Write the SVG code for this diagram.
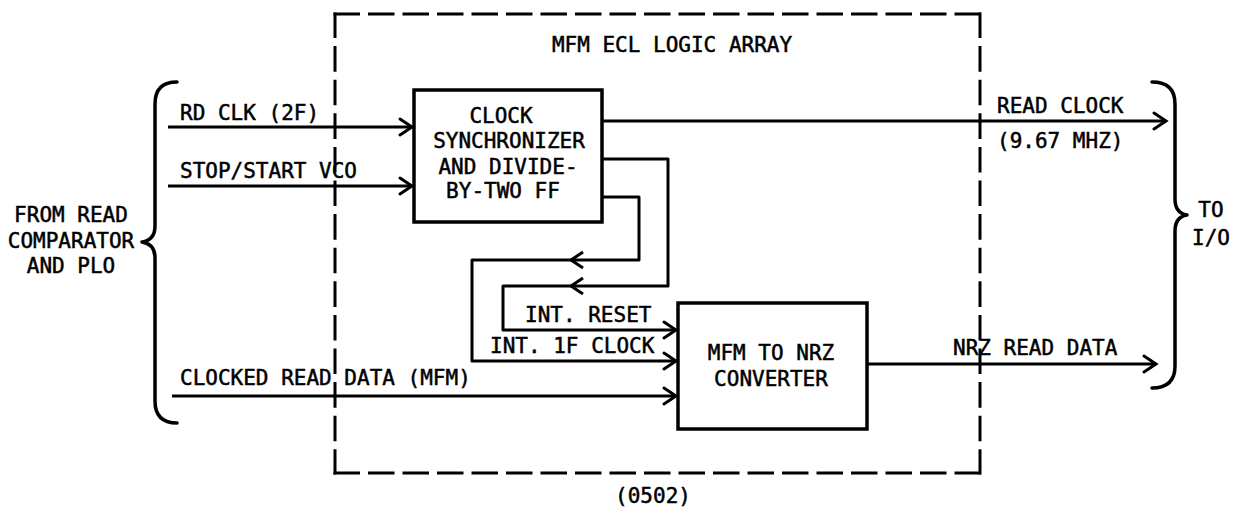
<svg xmlns="http://www.w3.org/2000/svg" width="1233" height="508" viewBox="0 0 1233 508">
<style>
  text { font-family: "DejaVu Sans Mono", "Liberation Mono", monospace; font-size: 21px; fill: #000; stroke: #000; stroke-width: 0.5px; }
  .mid { text-anchor: middle; }
  .ln { fill: none; stroke: #000; stroke-width: 3; stroke-linejoin: round; }
  .box { fill: #fff; stroke: #000; stroke-width: 3.5; }
  .dash { fill: none; stroke: #000; stroke-width: 3; stroke-linecap: square; }
  .brace { fill: none; stroke: #000; stroke-width: 3.5; stroke-linecap: round; stroke-linejoin: round; }
</style>
<defs>
  <marker id="arr" markerUnits="userSpaceOnUse" markerWidth="20" markerHeight="20" viewBox="-14 -10 16 20" refX="0" refY="0" orient="auto">
    <path d="M-12,-8 L0,0 L-12,8" fill="none" stroke="#000" stroke-width="3" stroke-linecap="round" stroke-linejoin="miter"/>
  </marker>
</defs>
<rect width="1233" height="508" fill="#fff"/>

<g id="logic-array">
  <path class="dash" d="M335,14 H980" stroke-dasharray="23.5 11"/>
  <path class="dash" d="M335,473 H980" stroke-dasharray="23.5 11"/>
  <path class="dash" d="M335,14 V473" stroke-dasharray="22.6 11"/>
  <path class="dash" d="M980,14 V473" stroke-dasharray="22.6 11"/>
  <text class="mid" x="672" y="52">MFM ECL LOGIC ARRAY</text>
  <text class="mid" x="653" y="503">(0502)</text>
</g>

<g id="connectors">
  <path class="ln" d="M168,127 H412" marker-end="url(#arr)"/>
  <path class="ln" d="M168,186 H412" marker-end="url(#arr)"/>
  <path class="ln" d="M172,396 H676" marker-end="url(#arr)"/>
  <path class="ln" d="M602,121 H1166" marker-end="url(#arr)"/>
  <path class="ln" d="M867,364 H1156" marker-end="url(#arr)"/>
  <path class="ln" d="M602,159 H668 V286 H503 V330 H676" marker-end="url(#arr)"/>
  <path class="ln" d="M602,197 H639 V260 H472 V361 H676" marker-end="url(#arr)"/>
  <path class="ln" d="M583,252 L571,260 L583,268"/>
  <path class="ln" d="M583,278 L571,286 L583,294"/>
</g>

<g id="clock-sync">
  <rect class="box" x="414" y="90" width="188" height="132"/>
  <text x="501" y="123" class="mid">CLOCK</text>
  <text x="509" y="148" class="mid">SYNCHRONIZER</text>
  <text x="508" y="174" class="mid">AND DIVIDE-</text>
  <text x="503" y="198" class="mid">BY-TWO FF</text>
</g>

<g id="mfm-converter">
  <rect class="box" x="678" y="303" width="189" height="126"/>
  <text x="771" y="360" class="mid">MFM TO NRZ</text>
  <text x="771" y="386" class="mid">CONVERTER</text>
</g>

<g id="labels">
  <text x="180" y="120">RD CLK (2F)</text>
  <text x="180" y="178">STOP/START VCO</text>
  <text x="180" y="385">CLOCKED READ DATA (MFM)</text>
  <text x="525" y="322">INT. RESET</text>
  <text x="490" y="353">INT. 1F CLOCK</text>
  <text x="997" y="113">READ CLOCK</text>
  <text x="997" y="148">(9.67 MHZ)</text>
  <text x="953" y="355">NRZ READ DATA</text>
</g>

<g id="source">
  <path class="brace" d="M177,82 Q155,82 155,104 V226 Q155,240 142,242 Q155,244 155,258 V401 Q155,423 177,423"/>
  <text class="mid" x="71" y="222">FROM READ</text>
  <text class="mid" x="71" y="248">COMPARATOR</text>
  <text class="mid" x="71" y="273">AND PLO</text>
</g>

<g id="destination">
  <path class="brace" d="M1152,82 Q1175,82 1175,104 V199 Q1175,213 1187,215 Q1175,217 1175,231 V366 Q1175,388 1152,388"/>
  <text class="mid" x="1211" y="217">TO</text>
  <text class="mid" x="1211" y="245">I/O</text>
</g>
</svg>
